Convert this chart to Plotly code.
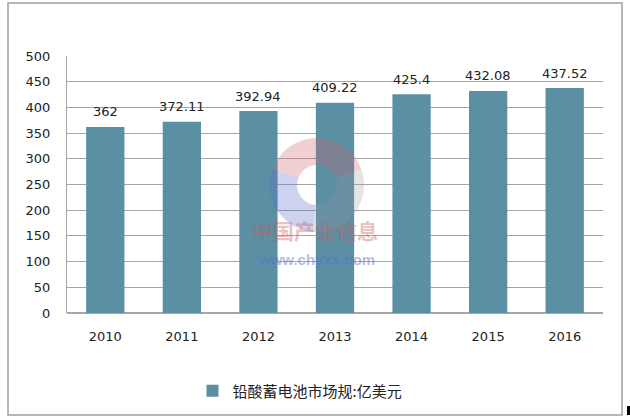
import math
import plotly.graph_objects as go

years = ["2010", "2011", "2012", "2013", "2014", "2015", "2016"]
values = [362, 372.11, 392.94, 409.22, 425.4, 432.08, 437.52]
value_labels = ["362", "372.11", "392.94", "409.22", "425.4", "432.08", "437.52"]
series_name = "铅酸蓄电池市场规:亿美元"
y_ticks = [0, 50, 100, 150, 200, 250, 300, 350, 400, 450, 500]

FONT = "DejaVu Sans, Verdana, Noto Sans CJK SC"
W, H = 630, 420
L, R, T, B = 67, 27, 56, 107
PW, PH = W - L - R, H - T - B


def px(xp):
    return (xp - L) / PW


def py(yp):
    return (T + PH - yp) / PH


def ring_path(cx, cy, r_out, r_in, a0, a1, n=30):
    pts = []
    for i in range(n + 1):
        a = math.radians(a0 + (a1 - a0) * i / n)
        pts.append((cx + r_out * math.cos(a), cy - r_out * math.sin(a)))
    for i in range(n + 1):
        a = math.radians(a1 - (a1 - a0) * i / n)
        pts.append((cx + r_in * math.cos(a), cy - r_in * math.sin(a)))
    s = "M " + " L ".join(f"{px(x):.4f},{py(y):.4f}" for x, y in pts) + " Z"
    return s


fig = go.Figure()
fig.add_trace(go.Bar(
    x=years, y=values, name=series_name,
    marker=dict(color="#5B8FA4", line=dict(width=0)),
    width=0.5,
    showlegend=True,
    hoverinfo="x+y",
))

annotations = []
for i, (v, lab) in enumerate(zip(values, value_labels)):
    annotations.append(dict(x=i, y=v, xref="x", yref="y", text=lab, showarrow=False,
                            yshift=15, font=dict(size=13, color="#222222", family=FONT)))

annotations += [
    dict(text="<b>中国产业信息</b>", xref="paper", yref="paper", x=px(315), y=py(247),
         showarrow=False, font=dict(size=21, color="rgba(205,90,90,0.40)",
                                      family="Noto Sans CJK SC")),
    dict(text="<b>www.chyxx.com</b>", xref="paper", yref="paper", x=px(316), y=py(270),
         showarrow=False, font=dict(size=15, color="rgba(90,110,200,0.45)",
                                      family="Liberation Sans")),
]

shapes = [
    dict(type="rect", xref="paper", yref="paper", x0=px(8), x1=px(622),
         y0=py(415), y1=py(3), line=dict(color="#A0A0A0", width=1.5), layer="below"),
    dict(type="rect", xref="paper", yref="paper", x0=px(627), x1=px(630),
         y0=py(415), y1=py(406), line=dict(width=0), fillcolor="black"),
    dict(type="path", xref="paper", yref="paper", path=ring_path(317, 185, 47, 20, 20, 160),
         line=dict(width=0), fillcolor="rgba(210,100,110,0.30)"),
    dict(type="path", xref="paper", yref="paper", path=ring_path(317, 185, 47, 20, 160, 265),
         line=dict(width=0), fillcolor="rgba(90,110,200,0.30)"),
    dict(type="path", xref="paper", yref="paper", path=ring_path(317, 185, 47, 20, 265, 380),
         line=dict(width=0), fillcolor="rgba(150,150,160,0.25)"),
]

fig.update_layout(
    width=W, height=H,
    margin=dict(l=L, r=R, t=T, b=B),
    paper_bgcolor="white", plot_bgcolor="white",
    font=dict(family=FONT, size=13, color="#222222"),
    xaxis=dict(type="category", range=[-0.5, 6.5], autorange=False,
               showgrid=False, showline=False, ticks="", tickfont=dict(size=13),
               ticklabelstandoff=14),
    yaxis=dict(range=[0, 500], autorange=False, tickvals=y_ticks, showgrid=True,
               gridcolor="#A6A6A6", gridwidth=1, showline=True, linecolor="#A6A6A6",
               linewidth=1, zeroline=True, zerolinecolor="#A6A6A6", ticks="",
               tickfont=dict(size=13), ticklabelstandoff=13),
    legend=dict(orientation="h", x=px(300), xanchor="center", y=py(391), yanchor="middle",
                font=dict(size=15, family="Noto Sans CJK SC", color="#222222"),
                itemwidth=30),
    shapes=shapes,
    annotations=annotations,
)

fig.write_html("out.html", config={"displayModeBar": False},
               post_script="document.body.style.margin='0';")
